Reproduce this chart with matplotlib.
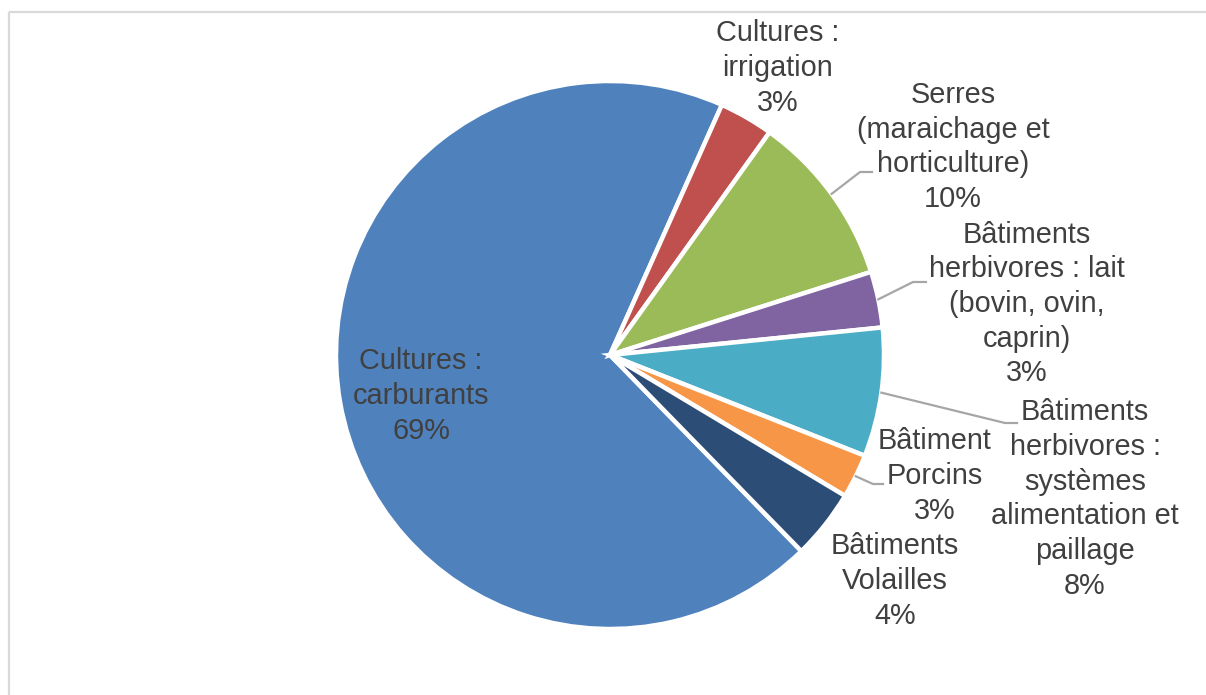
import numpy as np
import matplotlib.pyplot as plt

# share of each post, clockwise from the big slice
labels = [
    "Cultures :\ncarburants",
    "Cultures :\nirrigation",
    "Serres\n(maraichage et\nhorticulture)",
    "Bâtiments\nherbivores : lait\n(bovin, ovin,\ncaprin)",
    "Bâtiments\nherbivores :\nsystèmes\nalimentation et\npaillage",
    "Bâtiment\nPorcins",
    "Bâtiments\nVolailles",
]
values = [69.0, 3.2, 10.2, 3.3, 7.6, 2.6, 4.1]
colors = ["#4F81BD", "#C0504D", "#9BBB59", "#8064A2", "#4BACC6", "#F79646", "#2C4D75"]

W, H = 1206, 695
CX, CY, R = 610, H - 355, 274
START = -45.7  # degrees, matplotlib convention

# label block centres (pixels from top-left) and leader elbows (None = inside)
label_pos = [(421, 396), (778, 68), (953, 147), (1027, 304), (1085, 499), (935, 476), (895, 581)]
elbows = [None, None, (860, 172), (913, 282), (1005, 423), (873, 484), None]
line_ends = [None, None, 872, 926, 1017, 883, None]

plt.rcParams["font.family"] = ["Liberation Sans", "DejaVu Sans"]
TXT = "#404040"
LEAD = "#A6A6A6"

fig = plt.figure(figsize=(W / 100, H / 100), dpi=100)
ax = fig.add_axes([0, 0, 1, 1])

wedges, _ = ax.pie(
    values, colors=colors, startangle=START, counterclock=False,
    center=(CX, CY), radius=R, frame=True,
    wedgeprops=dict(edgecolor="white", linewidth=3.2),
)
ax.set_xlim(0, W)
ax.set_ylim(0, H)
ax.set_aspect("equal")
ax.axis("off")

# chart border
ax.plot([9, 9], [0, H - 12], color="#D9D9D9", lw=1.6, solid_capstyle="butt")
ax.plot([9, W], [H - 12, H - 12], color="#D9D9D9", lw=1.6, solid_capstyle="butt")

for i, (w, lab, v) in enumerate(zip(wedges, labels, values)):
    x, y = label_pos[i]
    ax.text(x, H - y, f"{lab}\n{v:.0f}%", ha="center", va="center",
            multialignment="center", fontsize=20.8, color=TXT, linespacing=1.3)
    if elbows[i] is not None:
        mid = np.deg2rad((w.theta1 + w.theta2) / 2)
        sx, sy = CX + R * np.cos(mid), CY + R * np.sin(mid)
        ex, ey = elbows[i]
        ax.plot([sx, ex, line_ends[i]], [sy, H - ey, H - ey], color=LEAD, lw=1.6)

fig.savefig("out.png", dpi=100)
